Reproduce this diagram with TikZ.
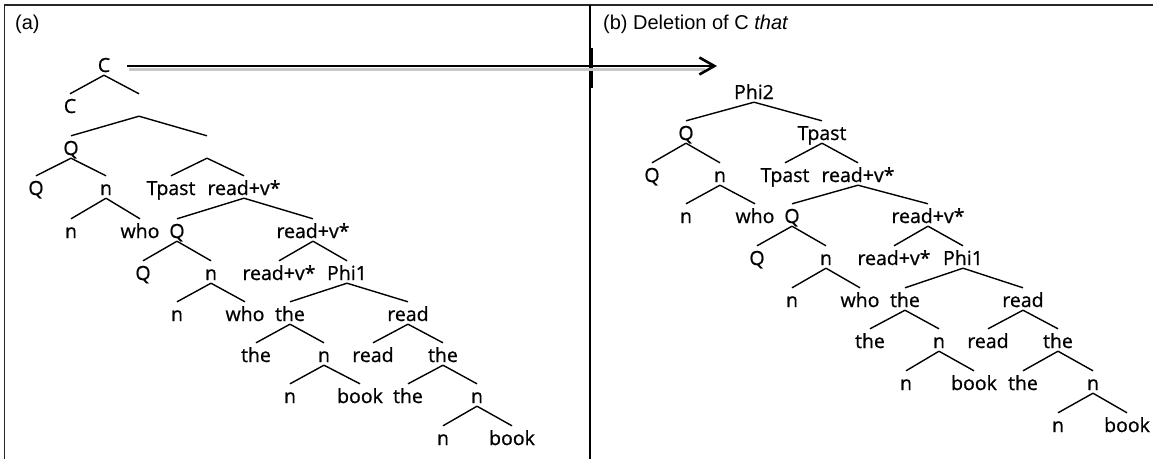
\documentclass[tikz,border=0pt]{standalone}
\usepackage{fontspec}
\setmainfont{Liberation Sans}
\newfontfamily\treefont[FakeBold=0.8]{Open Sans}
\usetikzlibrary{arrows.meta}
\begin{document}
\begin{tikzpicture}[x=1pt,y=-1pt,
  lbl/.style={font=\treefont\fontsize{19.5}{20}\selectfont, anchor=base, inner xsep=0pt, inner ysep=2pt, text height=17pt, text depth=1pt},
  hdr/.style={font=\fontsize{20}{22}\selectfont, anchor=base west, inner sep=0pt},
  br/.style={line width=1.4pt},
  frame/.style={line width=1.3pt, black!85}]
\useasboundingbox (0,0) rectangle (1153,459);
% frame
\draw[frame] (4.7,459) -- (4.7,5) -- (1153,5);
\draw[line width=2pt] (590,5) -- (590,459);
\draw[line width=3.5pt] (591,48) -- (591,88);
% headers
\node[hdr] (ha) at (15,29) {(a)};
\node[hdr] (hb) at (603,29) {(b) Deletion of C \textit{that}};
% arrow
\coordinate (arrS) at (127,66);
\coordinate (arrE) at (717,66);
\coordinate (shS) at (129,69.5);
\coordinate (shE) at (705,69.5);
\draw[line width=3pt, black!22] (shS) -- (shE);
\draw[line width=2.2pt, -{Straight Barb[length=15pt,width=17pt,line width=2.6pt]}] (arrS) -- (arrE);

% ---------------- left tree ----------------
\node[lbl] (a1) at (104,72) {C};
\node[lbl] (a2) at (70,113) {C};
\node[lbl] (a3) at (139,113) {};
\node[lbl] (a4) at (71,155) {Q};
\node[lbl] (a5) at (207,155) {};
\node[lbl] (a6) at (36,195) {Q};
\node[lbl] (a7) at (106,195) {n};
\node[lbl] (a8) at (171,195) {Tpast};
\node[lbl] (a9) at (244,195) {read+v*};
\node[lbl] (a10) at (71,238) {n};
\node[lbl] (a11) at (140,238) {who};
\node[lbl] (a12) at (177,238) {Q};
\node[lbl] (a13) at (313,238) {read+v*};
\node[lbl] (a14) at (143,280) {Q};
\node[lbl] (a15) at (211,280) {n};
\node[lbl] (a16) at (279,280) {read+v*};
\node[lbl] (a17) at (347,280) {Phi1};
\node[lbl] (a18) at (177,321) {n};
\node[lbl] (a19) at (245,321) {who};
\node[lbl] (a20) at (290,321) {the};
\node[lbl] (a21) at (408,321) {read};
\node[lbl] (a22) at (256,362) {the};
\node[lbl] (a23) at (324,362) {n};
\node[lbl] (a24) at (373,362) {read};
\node[lbl] (a25) at (443,362) {the};
\node[lbl] (a26) at (290,403) {n};
\node[lbl] (a27) at (360,403) {book};
\node[lbl] (a28) at (408,403) {the};
\node[lbl] (a29) at (477,403) {n};
\node[lbl] (a30) at (443,445) {n};
\node[lbl] (a31) at (512,445) {book};
\foreach \p/\c in {a1/a2,a1/a3,a3/a4,a3/a5,a4/a6,a4/a7,a5/a8,a5/a9,a7/a10,a7/a11,
  a9/a12,a9/a13,a12/a14,a12/a15,a13/a16,a13/a17,a15/a18,a15/a19,a17/a20,a17/a21,
  a20/a22,a20/a23,a21/a24,a21/a25,a23/a26,a23/a27,a25/a28,a25/a29,a29/a30,a29/a31}
  \draw[br] (\p.south) -- (\c.north);

% ---------------- right tree ----------------
\node[lbl] (b1) at (754,99) {Phi2};
\node[lbl] (b2) at (686,140) {Q};
\node[lbl] (b3) at (822,140) {Tpast};
\node[lbl] (b4) at (652,182) {Q};
\node[lbl] (b5) at (720,182) {n};
\node[lbl] (b6) at (785,182) {Tpast};
\node[lbl] (b7) at (858,182) {read+v*};
\node[lbl] (b8) at (686,223) {n};
\node[lbl] (b9) at (755,223) {who};
\node[lbl] (b10) at (792,223) {Q};
\node[lbl] (b11) at (928,223) {read+v*};
\node[lbl] (b12) at (757,265) {Q};
\node[lbl] (b13) at (826,265) {n};
\node[lbl] (b14) at (894,265) {read+v*};
\node[lbl] (b15) at (963,265) {Phi1};
\node[lbl] (b16) at (792,307) {n};
\node[lbl] (b17) at (860,307) {who};
\node[lbl] (b18) at (905,307) {the};
\node[lbl] (b19) at (1023,307) {read};
\node[lbl] (b20) at (870,348) {the};
\node[lbl] (b21) at (939,348) {n};
\node[lbl] (b22) at (988,348) {read};
\node[lbl] (b23) at (1058,348) {the};
\node[lbl] (b24) at (906,390) {n};
\node[lbl] (b25) at (974,390) {book};
\node[lbl] (b26) at (1023,390) {the};
\node[lbl] (b27) at (1093,390) {n};
\node[lbl] (b28) at (1058,432) {n};
\node[lbl] (b29) at (1127,432) {book};
\foreach \p/\c in {b1/b2,b1/b3,b2/b4,b2/b5,b3/b6,b3/b7,b5/b8,b5/b9,b7/b10,b7/b11,
  b10/b12,b10/b13,b11/b14,b11/b15,b13/b16,b13/b17,b15/b18,b15/b19,b18/b20,b18/b21,
  b19/b22,b19/b23,b21/b24,b21/b25,b23/b26,b23/b27,b27/b28,b27/b29}
  \draw[br] (\p.south) -- (\c.north);
\end{tikzpicture}
\end{document}
